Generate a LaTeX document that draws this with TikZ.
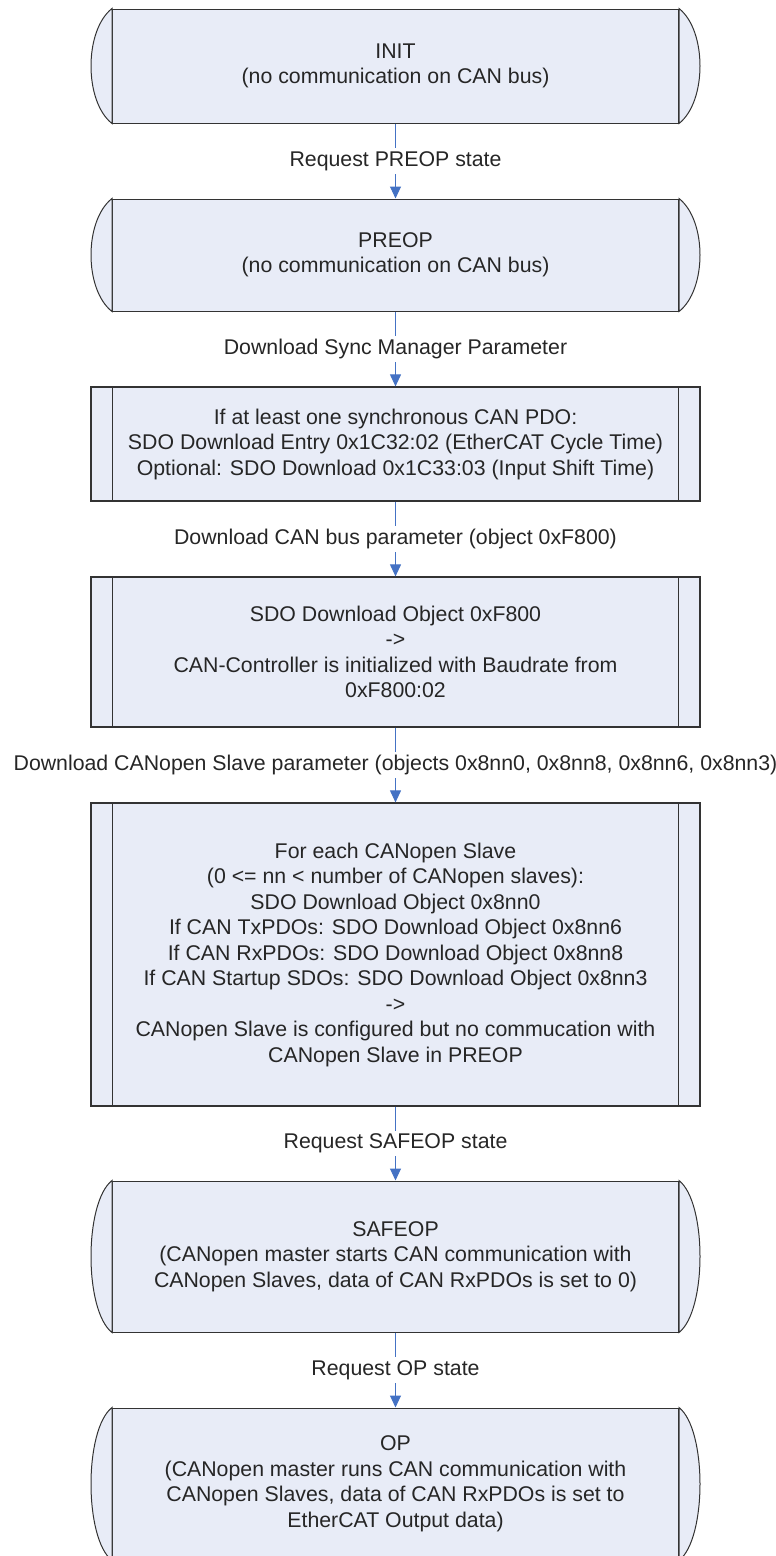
\documentclass[tikz,border=0pt]{standalone}
\usepackage{fontspec}
\setmainfont{Liberation Sans}
\usepackage{xcolor}
\usepackage{tikz}
\usetikzlibrary{arrows.meta}
\definecolor{boxfill}{RGB}{232,236,247}
\definecolor{flowblue}{RGB}{68,114,196}

\begin{document}
\begin{tikzpicture}[
    x=1pt, y=1pt,
    font=\fontsize{21.3}{25.5}\selectfont,
    state/.style={draw=black!80, line width=1pt, fill=boxfill, minimum width=566pt, align=center, text=black!85, inner sep=0pt},
    process/.style={draw=black!80, line width=1.2pt, fill=boxfill, minimum width=609pt, align=center, text=black!85, inner sep=0pt},
    steplabel/.style={midway, fill=white, inner sep=3pt, text=black!85},
    flow/.style={draw=flowblue, line width=1pt, -{Triangle[length=12pt, width=11pt]}}
]
\def \xc{395.5}
\useasboundingbox (0,0) rectangle (776,-1556);
% States and steps
\node[state, minimum height=114pt] (init) at (\xc,-66) {INIT\\(no communication on CAN bus)};
\node[state, minimum height=112pt] (preop) at (\xc,-255) {PREOP\\(no communication on CAN bus)};
\node[process, minimum height=114pt] (syncpar) at (\xc,-444) {If at least one synchronous CAN PDO:\\SDO Download Entry 0x1C32:02 (EtherCAT Cycle Time)\\Optional: SDO Download 0x1C33:03 (Input Shift Time)};
\node[process, minimum height=150pt] (canbus) at (\xc,-652) {SDO Download Object 0xF800\\->\\CAN-Controller is initialized with Baudrate from\\0xF800:02};
\node[process, minimum height=303pt] (slaves) at (\xc,-954.5) {For each CANopen Slave\\(0 <= nn < number of CANopen slaves):\\SDO Download Object 0x8nn0\\If CAN TxPDOs: SDO Download Object 0x8nn6\\If CAN RxPDOs: SDO Download Object 0x8nn8\\If CAN Startup SDOs: SDO Download Object 0x8nn3\\->\\CANopen Slave is configured but no commucation with\\CANopen Slave in PREOP};
\node[state, minimum height=151pt] (safeop) at (\xc,-1256.5) {SAFEOP\\(CANopen master starts CAN communication with\\CANopen Slaves, data of CAN RxPDOs is set to 0)};
\node[state, minimum height=152pt] (op) at (\xc,-1484) {OP\\(CANopen master runs CAN communication with\\CANopen Slaves, data of CAN RxPDOs is set to\\EtherCAT Output data)};

% Rounded ends of the states
\foreach \n in {init,preop,safeop,op} {
    \filldraw[fill=boxfill, draw=black!80, line width=1pt] (\n.north west) .. controls +(-28,-22) and +(-28,22) .. (\n.south west) -- cycle;
    \filldraw[fill=boxfill, draw=black!80, line width=1pt] (\n.north east) .. controls +(28,-22) and +(28,22) .. (\n.south east) -- cycle;
}
% Side bars of the steps
\foreach \n in {syncpar,canbus,slaves} {
    \draw[black!80, line width=1pt] ([xshift=22pt]\n.north west) -- ([xshift=22pt]\n.south west);
    \draw[black!80, line width=1pt] ([xshift=-22pt]\n.north east) -- ([xshift=-22pt]\n.south east);
}

% Transitions
\draw[flow] (init) -- node[steplabel] {Request PREOP state} (preop);
\draw[flow] (preop) -- node[steplabel] {Download Sync Manager Parameter} (syncpar);
\draw[flow] (syncpar) -- node[steplabel] {Download CAN bus parameter (object 0xF800)} (canbus);
\draw[flow] (canbus) -- node[steplabel] {Download CANopen Slave parameter (objects 0x8nn0, 0x8nn8, 0x8nn6, 0x8nn3)} (slaves);
\draw[flow] (slaves) -- node[steplabel] {Request SAFEOP state} (safeop);
\draw[flow] (safeop) -- node[steplabel] {Request OP state} (op);
\end{tikzpicture}
\end{document}
